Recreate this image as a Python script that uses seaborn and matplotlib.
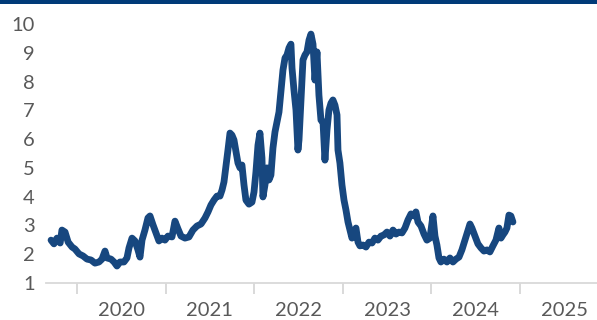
import matplotlib
matplotlib.use("Agg")
import matplotlib.pyplot as plt
from matplotlib.patches import Rectangle
from matplotlib.ticker import FixedLocator, NullFormatter
import seaborn as sns
import pandas as pd

# Time axis in decimal years, values of the series
t = [2019.707, 2019.740, 2019.774, 2019.810, 2019.830, 2019.865, 2019.900, 2019.944,
     2019.977, 2020.023, 2020.068, 2020.113, 2020.158, 2020.203, 2020.248, 2020.282,
     2020.316, 2020.339, 2020.384, 2020.418, 2020.451, 2020.485, 2020.530, 2020.564,
     2020.587, 2020.621, 2020.655, 2020.688, 2020.711, 2020.734, 2020.767, 2020.801,
     2020.824, 2020.858, 2020.892, 2020.925, 2020.959, 2020.993, 2021.027, 2021.072,
     2021.106, 2021.140, 2021.174, 2021.219, 2021.264, 2021.309, 2021.354, 2021.400,
     2021.445, 2021.479, 2021.512, 2021.546, 2021.580, 2021.614, 2021.637, 2021.659,
     2021.682, 2021.704, 2021.727, 2021.749, 2021.772, 2021.795, 2021.817, 2021.840,
     2021.862, 2021.885, 2021.907, 2021.941, 2021.975, 2021.998, 2022.020, 2022.043,
     2022.065, 2022.088, 2022.099, 2022.122, 2022.144, 2022.167, 2022.189, 2022.212,
     2022.235, 2022.257, 2022.280, 2022.302, 2022.325, 2022.348, 2022.370, 2022.393,
     2022.415, 2022.427, 2022.449, 2022.472, 2022.494, 2022.506, 2022.528, 2022.551,
     2022.573, 2022.596, 2022.619, 2022.641, 2022.664, 2022.686, 2022.709, 2022.731,
     2022.754, 2022.777, 2022.799, 2022.822, 2022.844, 2022.867, 2022.889, 2022.912,
     2022.935, 2022.946, 2022.968, 2022.991, 2023.014, 2023.036, 2023.059, 2023.081,
     2023.104, 2023.126, 2023.149, 2023.172, 2023.194, 2023.228, 2023.262, 2023.296,
     2023.330, 2023.363, 2023.397, 2023.431, 2023.465, 2023.499, 2023.533, 2023.567,
     2023.601, 2023.634, 2023.668, 2023.702, 2023.736, 2023.770, 2023.804, 2023.826,
     2023.849, 2023.883, 2023.917, 2023.950, 2023.984, 2024.018, 2024.041, 2024.063,
     2024.086, 2024.108, 2024.142, 2024.176, 2024.210, 2024.244, 2024.278, 2024.312,
     2024.345, 2024.379, 2024.413, 2024.436, 2024.458, 2024.492, 2024.526, 2024.560,
     2024.594, 2024.628, 2024.661, 2024.695, 2024.729, 2024.763, 2024.786, 2024.808,
     2024.831, 2024.853, 2024.876, 2024.898, 2024.921]

values = [2.49, 2.36, 2.56, 2.39, 2.84, 2.77, 2.42, 2.25,
          2.18, 2.01, 1.94, 1.83, 1.80, 1.69, 1.73, 1.83,
          2.11, 1.87, 1.83, 1.73, 1.59, 1.73, 1.73, 1.87,
          2.22, 2.56, 2.46, 2.15, 1.90, 2.49, 2.84, 3.26,
          3.33, 3.02, 2.74, 2.46, 2.56, 2.49, 2.63, 2.60,
          3.15, 2.88, 2.63, 2.56, 2.60, 2.84, 2.98, 3.05,
          3.26, 3.47, 3.71, 3.88, 4.02, 4.02, 4.23, 4.51,
          5.07, 5.62, 6.21, 6.14, 5.97, 5.55, 5.17, 5.00,
          5.10, 4.41, 3.88, 3.74, 3.81, 4.16, 4.86, 5.79,
          6.21, 5.34, 3.99, 4.41, 5.00, 4.58, 4.75, 5.69,
          6.25, 6.59, 6.94, 7.64, 8.40, 8.82, 8.92, 9.17,
          9.30, 8.47, 7.71, 7.01, 5.62, 5.97, 7.36, 8.75,
          8.92, 9.03, 9.44, 9.65, 9.30, 8.05, 9.03, 7.53,
          6.66, 6.59, 5.27, 6.32, 7.01, 7.25, 7.36, 7.18,
          6.84, 5.62, 5.17, 4.41, 3.88, 3.54, 3.12, 2.84,
          2.56, 2.77, 2.91, 2.42, 2.29, 2.32, 2.25, 2.42,
          2.39, 2.56, 2.49, 2.63, 2.67, 2.77, 2.63, 2.84,
          2.70, 2.77, 2.74, 2.91, 3.19, 3.40, 3.33, 3.47,
          3.12, 2.98, 2.70, 2.49, 2.56, 3.33, 2.63, 2.32,
          1.87, 1.73, 1.83, 1.73, 1.87, 1.73, 1.83, 1.90,
          2.15, 2.49, 2.84, 3.05, 2.91, 2.63, 2.36, 2.22,
          2.11, 2.15, 2.08, 2.29, 2.49, 2.91, 2.56, 2.67,
          2.77, 2.91, 3.36, 3.33, 3.12]

years = [2020, 2021, 2022, 2023, 2024, 2025]
year_labels = ["2020", "2021", "2022", "2023", "2024", "2025"]
y_ticks = [1, 2, 3, 4, 5, 6, 7, 8, 9, 10]

LINE = "#17477f"
BAR = "#003a78"
TEXT = "#595959"
GRID = "#d9d9d9"

sns.set_theme(style="white")
plt.rcParams["font.family"] = ["Lato", "DejaVu Sans"]

fig = plt.figure(figsize=(5.97, 3.20), dpi=100)
ax = fig.add_axes([46 / 597, 1 - 283 / 320, 1 - 46 / 597, (283 - 24) / 320])

df = pd.DataFrame({"t": t, "value": values})
sns.lineplot(data=df, x="t", y="value", ax=ax, color=LINE, linewidth=4.9,
             solid_joinstyle="round", solid_capstyle="round")

ax.set_xlim(2019.65, 2025.87)
ax.set_ylim(1, 10)
ax.set_xlabel("")
ax.set_ylabel("")

# year boundaries as tick marks, year names centred between them
ax.xaxis.set_major_locator(FixedLocator(years))
ax.xaxis.set_major_formatter(NullFormatter())
ax.xaxis.set_minor_locator(FixedLocator([y + 0.5 for y in years]))
ax.set_xticklabels(year_labels, minor=True)
ax.tick_params(axis="x", which="major", direction="out", length=8, width=1.1,
               color="#cfcfcf", bottom=True)
ax.tick_params(axis="x", which="minor", length=0, pad=14, labelsize=14.5,
               labelcolor=TEXT, bottom=True)

ax.set_yticks(y_ticks)
ax.set_yticklabels([str(v) for v in y_ticks])
ax.tick_params(axis="y", length=0, pad=8, labelsize=14.5, labelcolor=TEXT)

for side in ("left", "top", "right"):
    ax.spines[side].set_visible(False)
ax.spines["bottom"].set_color(GRID)
ax.spines["bottom"].set_linewidth(1.3)

# header band
fig.patches.append(Rectangle((0, 1 - 4 / 320), 1, 4 / 320, transform=fig.transFigure,
                             facecolor=BAR, edgecolor="none", zorder=10))

fig.savefig("out.png", dpi=100)
